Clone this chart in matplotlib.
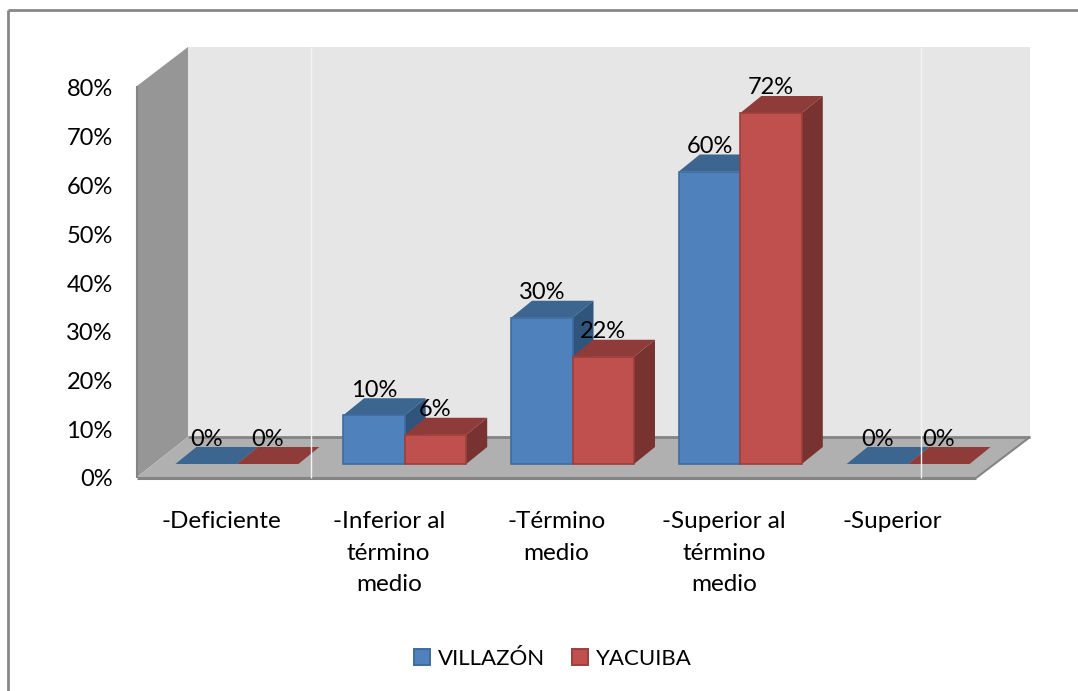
import matplotlib
matplotlib.use("Agg")
import matplotlib.pyplot as plt
from matplotlib.patches import Polygon, Patch
from matplotlib.transforms import Affine2D

categories = ["-Deficiente", "-Inferior al\ntérmino\nmedio", "-Término\nmedio", "-Superior al\ntérmino\nmedio", "-Superior"]
villazon = [0, 10, 30, 60, 0]
yacuiba = [0, 6, 22, 72, 0]
y_ticks = [0, 10, 20, 30, 40, 50, 60, 70, 80]

W, H = 1078, 691
plt.rcParams["font.family"] = ["Lato", "DejaVu Sans"]
FS = 17

fig = plt.figure(figsize=(W / 100, H / 100), dpi=100, facecolor="white")
# axes = front plane of the fake 3d box
left, right, y0, y80 = 137, 976, 478, 88
ax = fig.add_axes([left / W, (H - y0) / H, (right - left) / W, (y0 - y80) / H])
ax.set_xlim(0, 5)
ax.set_ylim(0, 80)
ax.patch.set_visible(False)
for s in ax.spines.values():
    s.set_visible(False)

# pixel coords, origin top left, for the walls and frame
pix = Affine2D().scale(1, -1).translate(0, H)
ux = (right - left) / 5
uy = (y0 - y80) / 80


def wall(pts, color, z=1):
    ax.add_patch(Polygon(pts, closed=True, fc=color, ec="none", transform=pix, clip_on=False, zorder=z))


def pline(xs, ys, color, lw, z=2):
    ax.plot(xs, ys, color=color, lw=lw, transform=pix, clip_on=False, zorder=z, solid_capstyle="butt")


# outer frame
pline([8, 8], [10, 691], "#878787", 2)
pline([8, 1078], [10, 10], "#878787", 2)

# walls and floor
wall([(188, 47), (1030, 47), (1030, 437), (188, 437)], "#e6e6e6")
wall([(137, 86), (188, 47), (188, 437), (137, 477)], "#969696")
wall([(137, 477), (188, 437), (1030, 437), (976, 477)], "#b0b0b0")
pline([188, 1030], [437, 437], "#848484", 2)
pline([137, 976], [477.5, 477.5], "#848484", 2.2)
pline([976, 1030], [478, 437], "#848484", 1.5)
pline([137, 137], [86, 478], "#848484", 1.5)

# bars
bar_w = 61.5 / ux
dx = 21 / ux
dy = 17 / uy
base = 14 / uy
shift = 16 / ux
series = [
    ("VILLAZÓN", villazon, -1, "#4f81bd", "#3c6590", "#30557c", "#3f6c9f"),
    ("YACUIBA", yacuiba, 0, "#c0504d", "#8f3b39", "#783230", "#9c3f3c"),
]
handles = []
for name, vals, side, front, top, dark, edge in series:
    for i, v in enumerate(vals):
        x0 = i + 0.5 + shift + side * bar_w
        x1 = x0 + bar_w
        y1 = base + v
        z = 5 + i + (side + 1) * 0.5
        ax.add_patch(Polygon([(x0, y1), (x1, y1), (x1 + dx, y1 + dy), (x0 + dx, y1 + dy)], fc=top, ec="none", zorder=z, clip_on=False))
        if v > 0:
            ax.add_patch(Polygon([(x1, base), (x1 + dx, base + dy), (x1 + dx, y1 + dy), (x1, y1)], fc=dark, ec="none", zorder=z, clip_on=False))
            ax.bar(x0, v, width=bar_w, bottom=base, align="edge", color=front, edgecolor=edge, linewidth=1.2, zorder=z + 0.1)
        ax.text(x0 + bar_w / 2, y1 + 25 / uy, f"{v}%", ha="center", va="center", fontsize=FS, color="black", zorder=30, clip_on=False)
    handles.append(Patch(fc=front, ec=edge, lw=1.4, label=name))

# light gridlines that cross the plot
pline([311, 311], [47, 478], "#f4f4f4", 1, z=20)
pline([921, 921], [47, 478], "#f4f4f4", 1, z=20)

ax.set_xticks([i + 0.5 for i in range(5)])
ax.set_xticklabels(categories, fontsize=17.5, linespacing=1.64)
ax.set_yticks(y_ticks)
ax.set_yticklabels([f"{t}%" for t in y_ticks], fontsize=FS)
ax.tick_params(axis="x", length=0, pad=23.5)
ax.tick_params(axis="y", length=0, pad=17.5)
ax.set_xlim(0, 5)
ax.set_ylim(0, 80)

fig.legend(handles=handles, loc="center", bbox_to_anchor=(553 / W, (H - 659) / H), ncol=2, frameon=False,
           fontsize=16, handlelength=0.72, handleheight=0.72, handletextpad=0.38, columnspacing=1.2)

fig.savefig("out.png", dpi=100)
